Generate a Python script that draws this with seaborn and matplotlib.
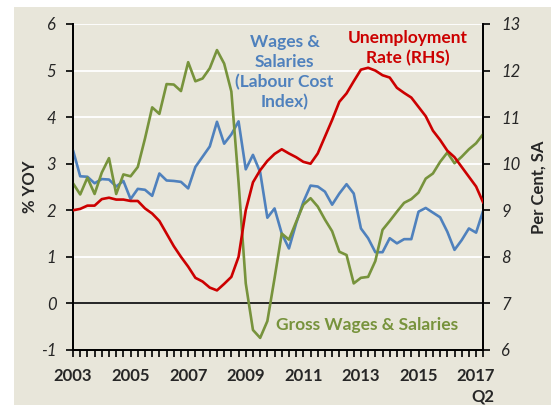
import numpy as np
import pandas as pd
import matplotlib
matplotlib.use("Agg")
import matplotlib.pyplot as plt
from matplotlib.patches import Rectangle
import seaborn as sns

# Quarterly data, 2003 Q1 .. 2017 Q2
quarters = pd.period_range("2003Q1", "2017Q2", freq="Q").astype(str).tolist()

wpi_yoy = [3.29, 2.73, 2.72, 2.58, 2.67, 2.66, 2.51, 2.63, 2.24, 2.46,
           2.44, 2.31, 2.79, 2.64, 2.63, 2.61, 2.47, 2.93, 3.15, 3.37,
           3.90, 3.43, 3.63, 3.91, 2.88, 3.19, 2.82, 1.84, 2.04, 1.50,
           1.18, 1.72, 2.18, 2.53, 2.51, 2.40, 2.12, 2.36, 2.56, 2.36,
           1.61, 1.40, 1.10, 1.10, 1.40, 1.29, 1.38, 1.38, 1.97, 2.05,
           1.95, 1.85, 1.54, 1.15, 1.36, 1.61, 1.52, 2.00]

gross_wages_yoy = [2.58, 2.34, 2.70, 2.35, 2.81, 3.12, 2.35, 2.77, 2.73, 2.93,
                   3.54, 4.21, 4.07, 4.71, 4.70, 4.56, 5.18, 4.77, 4.83, 5.05,
                   5.44, 5.15, 4.55, 2.60, 0.43, -0.57, -0.74, -0.38, 0.54, 1.50,
                   1.37, 1.75, 2.12, 2.26, 2.08, 1.80, 1.55, 1.11, 1.04, 0.43,
                   0.55, 0.57, 0.91, 1.58, 1.77, 1.97, 2.16, 2.24, 2.38, 2.68,
                   2.79, 3.04, 3.24, 3.01, 3.15, 3.31, 3.44, 3.64]

unemployment = [9.00, 9.03, 9.10, 9.10, 9.24, 9.27, 9.23, 9.23, 9.20, 9.20,
                9.04, 8.93, 8.77, 8.50, 8.23, 8.00, 7.79, 7.55, 7.47, 7.34,
                7.28, 7.42, 7.57, 8.00, 9.00, 9.60, 9.86, 10.06, 10.21, 10.31,
                10.22, 10.14, 10.04, 10.00, 10.22, 10.58, 10.94, 11.33, 11.51, 11.77,
                12.02, 12.06, 12.00, 11.90, 11.85, 11.63, 11.52, 11.42, 11.22, 11.02,
                10.71, 10.51, 10.28, 10.14, 9.93, 9.72, 9.51, 9.16]

year_labels = ["2003", "2005", "2007", "2009", "2011", "2013", "2015", "2017"]

df = pd.DataFrame({"q": np.arange(len(quarters)), "quarter": quarters,
                   "wpi": wpi_yoy, "gross": gross_wages_yoy, "unemp": unemployment})

BEIGE = "#E8E6DA"
BLUE = "#4F81BD"
GREEN = "#77933C"
RED = "#CC0000"

sns.set_style("white")
plt.rcParams["font.family"] = ["Lato", "DejaVu Sans"]
plt.rcParams["axes.unicode_minus"] = False

fig = plt.figure(figsize=(5.51, 4.05), dpi=100)
fig.patch.set_facecolor("white")
fig.patches.append(Rectangle((14 / 551, 0), 1, 1 - 7 / 405, transform=fig.transFigure,
                             facecolor=BEIGE, edgecolor="none", zorder=-10))

ax = fig.add_axes([73 / 551, 1 - 350 / 405, (483.3 - 73) / 551, (350 - 24) / 405])
ax.set_facecolor(BEIGE)

for v in range(-1, 7):
    ax.axhline(v, color="white", lw=1.3, zorder=0)
ax.axhline(0, color="black", lw=1.2, zorder=1)

sns.lineplot(data=df, x="q", y="wpi", ax=ax, color=BLUE, lw=1.9, zorder=3)
sns.lineplot(data=df, x="q", y="gross", ax=ax, color=GREEN, lw=1.9, zorder=4)

ax2 = ax.twinx()
sns.lineplot(data=df, x="q", y="unemp", ax=ax2, color=RED, lw=1.9, zorder=5)

n = len(quarters)
ax.set_xlim(0, n - 1)
ax.set_ylim(-1, 6)
ax2.set_ylim(6, 13)
ax.set_yticks(range(-1, 7))
ax2.set_yticks(range(6, 14))
ax.set_xticks(range(0, n, 8))
ax.set_xticklabels(year_labels)
ax.set_xticks(range(n), minor=True)

for lab in ax.get_yticklabels() + ax2.get_yticklabels():
    lab.set_fontsize(12)
    lab.set_fontstyle("italic")
for lab in ax.get_xticklabels():
    lab.set_fontsize(12)
    lab.set_fontweight("bold")

ax.tick_params(axis="y", direction="out", length=5, width=1.2, color="black", pad=7, left=True)
ax2.tick_params(axis="y", direction="out", length=5, width=1.2, color="black", pad=8, right=True)
ax.tick_params(axis="x", which="both", direction="out", length=5, width=1.2,
               color="black", pad=8, bottom=True)

for a in (ax, ax2):
    a.spines["top"].set_visible(False)
    for s in ("left", "right", "bottom"):
        a.spines[s].set_color("black")
        a.spines[s].set_linewidth(1.3)
ax2.patch.set_visible(False)

ax.set_xlabel("")
ax.set_ylabel("% YOY", fontsize=12, fontweight="bold", labelpad=2)
ax2.set_ylabel("Per Cent, SA", fontsize=12, fontweight="bold", labelpad=7)

ax.text(n - 1, -1.83, "Q2", ha="center", va="top", fontsize=12, fontweight="bold")

ax.text(29.4, 5.78, "Wages &\nSalaries\n(Labour Cost\nIndex)", ha="center", va="top",
        color=BLUE, fontsize=12.5, fontweight="bold", linespacing=1.3)
ax.text(46.5, 5.88, "Unemployment\nRate (RHS)", ha="center", va="top",
        color=RED, fontsize=12.5, fontweight="bold", linespacing=1.3)
ax.text(40.8, -0.47, "Gross Wages & Salaries", ha="center", va="center",
        color=GREEN, fontsize=12.5, fontweight="bold")

fig.savefig("out.png", dpi=100, facecolor=fig.get_facecolor())
